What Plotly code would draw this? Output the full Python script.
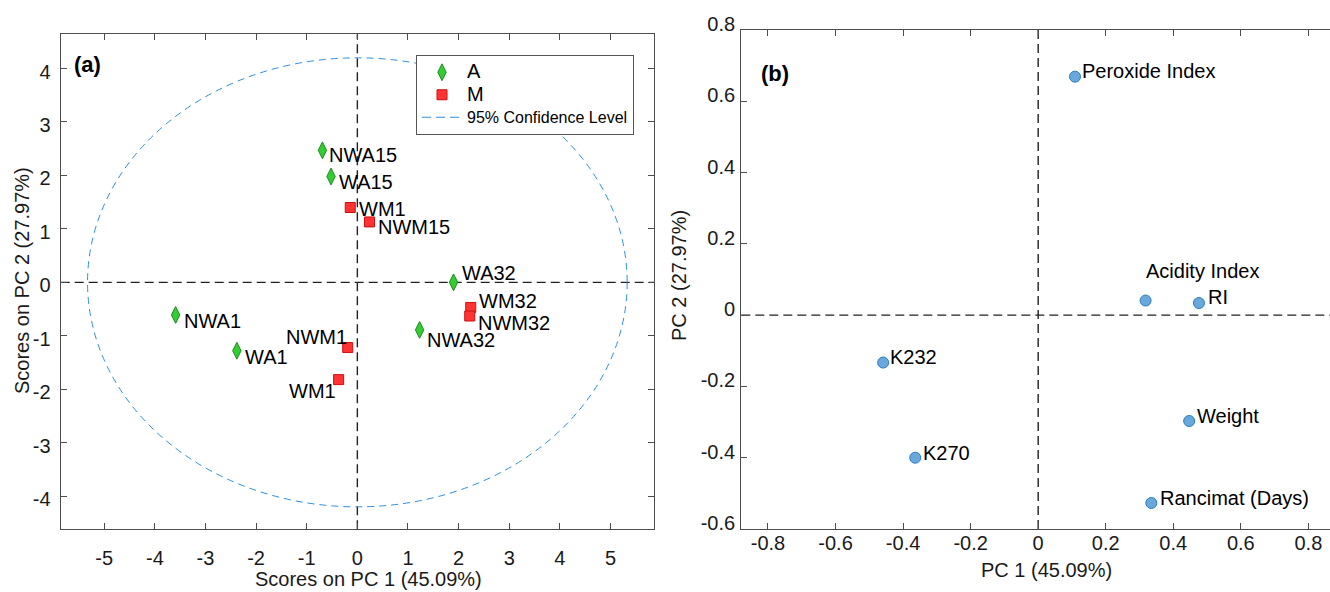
import plotly.graph_objects as go

# ---------------- data ----------------
# (a) scores plot
a_labels = ["NWA15", "WA15", "WA32", "NWA32", "NWA1", "WA1"]
a_pc1 = [-0.69, -0.52, 1.90, 1.23, -3.59, -2.38]
a_pc2 = [2.47, 1.98, 0.00, -0.89, -0.61, -1.28]

m_labels = ["WM1", "NWM15", "WM32", "NWM32", "NWM1", "WM1"]
m_pc1 = [-0.14, 0.24, 2.24, 2.22, -0.19, -0.37]
m_pc2 = [1.40, 1.13, -0.47, -0.63, -1.22, -1.82]

conf_a = 5.33   # semi-axis of 95% confidence ellipse along PC1
conf_b = 4.20   # semi-axis along PC2

a_xticks = [-5, -4, -3, -2, -1, 0, 1, 2, 3, 4, 5]
a_xticktext = ["-5", "-4", "-3", "-2", "-1", "0", "1", "2", "3", "4", "5"]
a_yticks = [-4, -3, -2, -1, 0, 1, 2, 3, 4]
a_yticktext = ["-4", "-3", "-2", "-1", "0", "1", "2", "3", "4"]

# (b) loadings plot
var_labels = ["Peroxide Index", "Acidity Index", "RI", "K232", "K270", "Weight", "Rancimat (Days)"]
var_pc1 = [0.109, 0.318, 0.476, -0.459, -0.364, 0.447, 0.335]
var_pc2 = [0.669, 0.041, 0.034, -0.133, -0.400, -0.297, -0.527]

b_xticks = [-0.8, -0.6, -0.4, -0.2, 0, 0.2, 0.4, 0.6, 0.8]
b_xticktext = ["-0.8", "-0.6", "-0.4", "-0.2", "0", "0.2", "0.4", "0.6", "0.8"]
b_yticks = [-0.6, -0.4, -0.2, 0, 0.2, 0.4, 0.6, 0.8]
b_yticktext = ["-0.6", "-0.4", "-0.2", "0", "0.2", "0.4", "0.6", "0.8"]

# ---------------- styles ----------------
FONT = "Liberation Sans, Arial, sans-serif"
TXT = "#1a1a1a"
AX = "#4d4d4d"
W, H = 1330, 592

# label placement styles (xanchor, xshift, yshift) per point
a_lab_style = [("left", 5, -5), ("left", 6, -6), ("left", 6, 9), ("left", 5, -10),
               ("left", 6, -6), ("left", 6, -6)]
m_lab_style = [("left", 7, -2), ("left", 6, -5), ("left", 6, 6), ("left", 6, -7),
               ("right", 1, 11), ("right", -1, -11)]
v_lab_style = [("left", 5, 6), ("left", -2, 30), ("left", 7, 6), ("left", 5, 6),
               ("left", 6, 5), ("left", 6, 5), ("left", 7, 5)]

fig = go.Figure()

fig.add_trace(go.Scatter(
    x=a_pc1, y=a_pc2, mode="markers", name='<span style="font-size:20px">A</span>',
    marker=dict(symbol="diamond-tall", size=12, color="#33cc33",
                line=dict(color="#1e8c1e", width=1)),
    xaxis="x", yaxis="y", hoverinfo="skip"))
fig.add_trace(go.Scatter(
    x=m_pc1, y=m_pc2, mode="markers", name='<span style="font-size:20px">M</span>',
    marker=dict(symbol="square", size=10, color="#ff3333",
                line=dict(color="#cc1111", width=1)),
    xaxis="x", yaxis="y", hoverinfo="skip"))
fig.add_trace(go.Scatter(
    x=[None], y=[None], mode="lines",
    name='<span style="font-size:16px">95% Confidence Level</span>',
    line=dict(color="#2f8fdc", width=1, dash="9px,5px"),
    xaxis="x", yaxis="y"))
fig.add_trace(go.Scatter(
    x=var_pc1, y=var_pc2, mode="markers", showlegend=False,
    marker=dict(symbol="circle", size=11, color="#6aa8dc",
                line=dict(color="#2b7bc0", width=1)),
    xaxis="x2", yaxis="y2", hoverinfo="skip"))

shapes = []
# confidence ellipse
shapes.append(dict(type="circle", xref="x", yref="y",
                   x0=-conf_a, x1=conf_a, y0=-conf_b, y1=conf_b,
                   line=dict(color="#2f8fdc", width=1, dash="7px,5px"), layer="below"))
# zero lines
for xr, yr in (("x", "y"), ("x2", "y2")):
    shapes.append(dict(type="line", xref=xr + " domain", yref=yr, x0=0, x1=1, y0=0, y1=0,
                       line=dict(color="#222", width=1.4, dash="9px,5px"), layer="below"))
    shapes.append(dict(type="line", xref=xr, yref=yr + " domain", x0=0, x1=0, y0=0, y1=1,
                       line=dict(color="#222", width=1.4, dash="9px,5px"), layer="below"))

annotations = []
lab_font = dict(family=FONT, size=20, color="black")
for labs, xs, ys, sty, xr, yr in (
        (a_labels, a_pc1, a_pc2, a_lab_style, "x", "y"),
        (m_labels, m_pc1, m_pc2, m_lab_style, "x", "y"),
        (var_labels, var_pc1, var_pc2, v_lab_style, "x2", "y2")):
    for lab, xv, yv, (xa, xs_, ys_) in zip(labs, xs, ys, sty):
        annotations.append(dict(x=xv, y=yv, xref=xr, yref=yr, text=lab, showarrow=False,
                                xanchor=xa, yanchor="middle", xshift=xs_, yshift=ys_,
                                font=lab_font))

def px(xp):
    return xp / W

def py(yp):
    return (H - yp) / H

title_font = dict(family=FONT, size=20, color=TXT)
annotations += [
    dict(x=px(368), y=py(579), xref="paper", yref="paper", text="Scores on PC 1 (45.09%)",
         showarrow=False, xanchor="center", yanchor="middle", font=title_font),
    dict(x=px(22), y=py(281), xref="paper", yref="paper", text="Scores on PC 2 (27.97%)",
         showarrow=False, xanchor="center", yanchor="middle", textangle=-90, font=title_font),
    dict(x=px(1046), y=py(570), xref="paper", yref="paper", text="PC 1 (45.09%)",
         showarrow=False, xanchor="center", yanchor="middle", font=title_font),
    dict(x=px(679), y=py(276), xref="paper", yref="paper", text="PC 2 (27.97%)",
         showarrow=False, xanchor="center", yanchor="middle", textangle=-90, font=title_font),
    dict(x=px(72), y=py(65), xref="paper", yref="paper", text="<b>(a)</b>",
         showarrow=False, xanchor="left", yanchor="middle",
         font=dict(family=FONT, size=22, color="black")),
    dict(x=px(759), y=py(73), xref="paper", yref="paper", text="<b>(b)</b>",
         showarrow=False, xanchor="left", yanchor="middle",
         font=dict(family=FONT, size=22, color="black")),
]

tick_font = dict(family=FONT, size=20, color=TXT)
common = dict(showgrid=False, zeroline=False, showline=True, linecolor=AX, linewidth=1.3,
              ticks="inside", ticklen=6, tickcolor=AX, tickwidth=1, tickfont=tick_font,
              automargin=False)

fig.update_layout(
    width=W, height=H, autosize=False,
    margin=dict(l=0, r=0, t=0, b=0, pad=0, autoexpand=False),
    paper_bgcolor="white", plot_bgcolor="white",
    showlegend=True,
    xaxis=dict(domain=[px(60.7), px(654)], range=[-5.86, 5.86], anchor="y",
               tickvals=a_xticks, ticktext=a_xticktext, mirror="ticks",
               ticklabelstandoff=11, **common),
    yaxis=dict(domain=[py(529.3), py(34.3)], range=[-4.62, 4.64], anchor="x",
               tickvals=a_yticks, ticktext=a_yticktext, mirror="ticks",
               ticklabelstandoff=5, ticklabelshift=3, **common),
    xaxis2=dict(domain=[px(741.3), 1.0], range=[-0.879, 0.864], anchor="y2",
                tickvals=b_xticks, ticktext=b_xticktext, mirror="ticks",
                ticklabelstandoff=-4, **common),
    yaxis2=dict(domain=[py(529), py(30)], range=[-0.6, 0.8], anchor="x2",
                tickvals=b_yticks, ticktext=b_yticktext, mirror=False,
                ticklabelstandoff=1, ticklabelshift=-6, **common),
    legend=dict(x=px(416), y=py(55), xanchor="left", yanchor="top",
                xref="paper", yref="paper", bgcolor="white", bordercolor="#555",
                borderwidth=1, font=dict(family=FONT, size=15, color="black"),
                itemwidth=40, tracegroupgap=0),
    shapes=shapes, annotations=annotations,
)

fig.write_html("out.html", config={"displayModeBar": False},
               post_script="document.body.style.margin='0';document.body.style.overflow='hidden';")
